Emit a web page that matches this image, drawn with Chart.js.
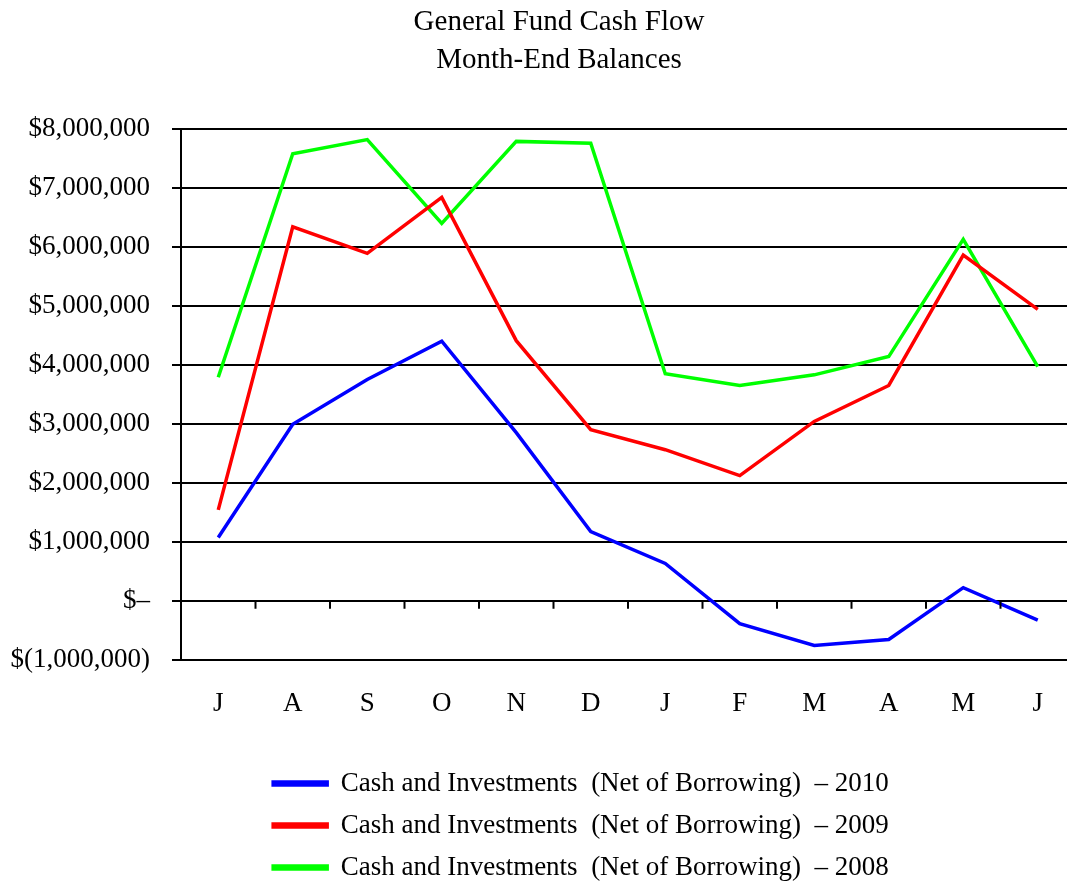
<!DOCTYPE html>
<html>
<head>
<meta charset="utf-8">
<script src="https://cdn.jsdelivr.net/npm/chart.js@4.4.1/dist/chart.umd.min.js"></script>
<style>
    html, body { margin: 0; padding: 0; background: #fff; overflow: hidden; }
    #wrap { width: 1118px; height: 891px; }
</style>
</head>
<body>
<div id="wrap"><canvas id="cashChart" width="1118" height="891"></canvas></div>
<script>
const MONTHS = ['J', 'A', 'S', 'O', 'N', 'D', 'J', 'F', 'M', 'A', 'M', 'J'];

// month-end balances
const CASH_2010 = [1070000, 2990000, 3750000, 4400000, 2850000, 1170000, 630000, -390000, -760000, -660000, 220000, -330000];
const CASH_2009 = [1540000, 6340000, 5890000, 6840000, 4410000, 2900000, 2560000, 2120000, 3040000, 3650000, 5860000, 4940000];
const CASH_2008 = [3790000, 7580000, 7820000, 6400000, 7790000, 7760000, 3850000, 3650000, 3830000, 4140000, 6130000, 3970000];

const SERIES_LABELS = [
    'Cash and Investments  (Net of Borrowing)  – 2010',
    'Cash and Investments  (Net of Borrowing)  – 2009',
    'Cash and Investments  (Net of Borrowing)  – 2008'
];

const FONT = '"Liberation Serif", "Times New Roman", serif';

function money(v) {
    if (v === 0) return '$–';
    const s = Math.abs(v).toLocaleString('en-US');
    return v < 0 ? `$(${s})` : `$${s}`;
}

function lineSet(label, data, color) {
    return {
        label,
        data,
        borderColor: color,
        backgroundColor: color,
        borderWidth: 3.5,
        pointRadius: 0,
        tension: 0
    };
}

// little tick marks hanging off the zero line, between months
const zeroTicks = {
    id: 'zeroTicks',
    afterDatasetsDraw(chart) {
        const x = chart.scales.x;
        const y0 = chart.scales.y.getPixelForValue(0);
        const ctx = chart.ctx;
        ctx.save();
        ctx.strokeStyle = '#000';
        ctx.lineWidth = 2;
        ctx.beginPath();
        for (let i = 1; i < MONTHS.length; i++) {
            const px = (x.getPixelForValue(i - 1) + x.getPixelForValue(i)) / 2;
            ctx.moveTo(px, y0);
            ctx.lineTo(px, y0 + 8);
        }
        ctx.stroke();
        ctx.restore();
    }
};

// title and legend sit right of the canvas centre in the original
const blockNudge = {
    id: 'blockNudge',
    afterLayout(chart) {
        chart.titleBlock.left += 21.5;
        chart.titleBlock.right += 21.5;
        chart.legend.left += 43.5;
        chart.legend.right += 43.5;
    }
};

Chart.defaults.font.family = FONT;
Chart.defaults.color = '#000';

new Chart(document.getElementById('cashChart').getContext('2d'), {
    type: 'line',
    data: {
        labels: MONTHS,
        datasets: [
            lineSet(SERIES_LABELS[0], CASH_2010, '#0000ff'),
            lineSet(SERIES_LABELS[1], CASH_2009, '#ff0000'),
            lineSet(SERIES_LABELS[2], CASH_2008, '#00ff00')
        ]
    },
    options: {
        responsive: false,
        animation: false,
        layout: { padding: { left: 0, right: 43, bottom: 0 } },
        plugins: {
            title: {
                display: true,
                text: ['General Fund Cash Flow', 'Month-End Balances'],
                font: { size: 29, weight: 'normal', lineHeight: 1.3 },
                color: '#000',
                padding: { top: 3.5, bottom: 50.1 }
            },
            legend: {
                position: 'bottom',
                labels: {
                    boxWidth: 54,
                    boxHeight: 3,
                    padding: 15,
                    font: { size: 27 },
                    color: '#000'
                }
            },
            tooltip: { enabled: false }
        },
        scales: {
            x: {
                offset: true,
                grid: { display: false },
                border: { display: false },
                ticks: { font: { size: 27 }, padding: 20, maxRotation: 0 },
                afterFit(scale) { scale.height += 15; }
            },
            y: {
                min: -1000000,
                max: 8000000,
                ticks: {
                    stepSize: 1000000,
                    font: { size: 27 },
                    padding: 22,
                    callback: money
                },
                grid: { color: '#000', lineWidth: 2, tickLength: 9 },
                border: { display: true, color: '#000', width: 2 },
                afterFit(scale) { scale.width = 181; }
            }
        }
    },
    plugins: [zeroTicks, blockNudge]
});
</script>
</body>
</html>
